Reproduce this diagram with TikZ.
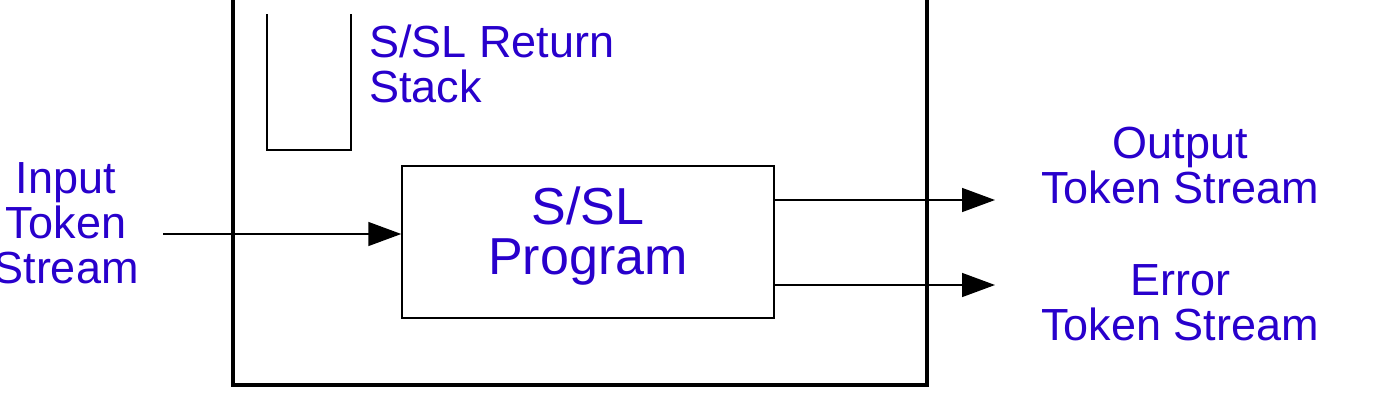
\documentclass[tikz,border=0pt]{standalone}
\usepackage{fontspec}
\setmainfont{Liberation Sans}
\usetikzlibrary{arrows.meta}
\definecolor{lblue}{RGB}{40,0,204}
\tikzset{
  lbl/.style={text=lblue, inner sep=0pt, align=center, font=\fontsize{45}{45}\selectfont},
  thinbox/.style={draw=black, line width=1.5pt},
  flow/.style={line width=1.5pt, -{Triangle[length=33pt,width=24pt]}},
}
\begin{document}
\begin{tikzpicture}[x=1pt,y=-1pt]
\useasboundingbox (0,0) rectangle (1381,407);
% outer frame
\draw[line width=3.5pt] (233,-20) rectangle (927,385);
% return stack (open top)
\draw[line width=1.5pt] (267,14) -- (267,150) -- (351,150) -- (351,14);
\node[lbl, anchor=west, align=left] (stacklbl) at (369,64) {S/SL Return\\Stack};
% program box
\node[thinbox, minimum width=372pt, minimum height=152pt, inner sep=0pt] (prog) at (588,242) {};
\node[lbl, font=\fontsize{52}{50}\selectfont] (proglbl) at (588,236) {S/SL\\Program};
% input
\node[lbl] (inlbl) at (66,223) {Input\\Token\\Stream};
\coordinate (instart) at (163,234);
\draw[flow] (instart) -- (prog.west |- instart);
% outputs
\coordinate (outend) at (995,200);
\coordinate (errend) at (995,285);
\draw[flow] (prog.east |- outend) -- (outend);
\draw[flow] (prog.east |- errend) -- (errend);
\node[lbl] (outlbl) at (1180,166) {Output\\Token Stream};
\node[lbl] (errlbl) at (1180,303) {Error\\Token Stream};
\end{tikzpicture}
\end{document}
